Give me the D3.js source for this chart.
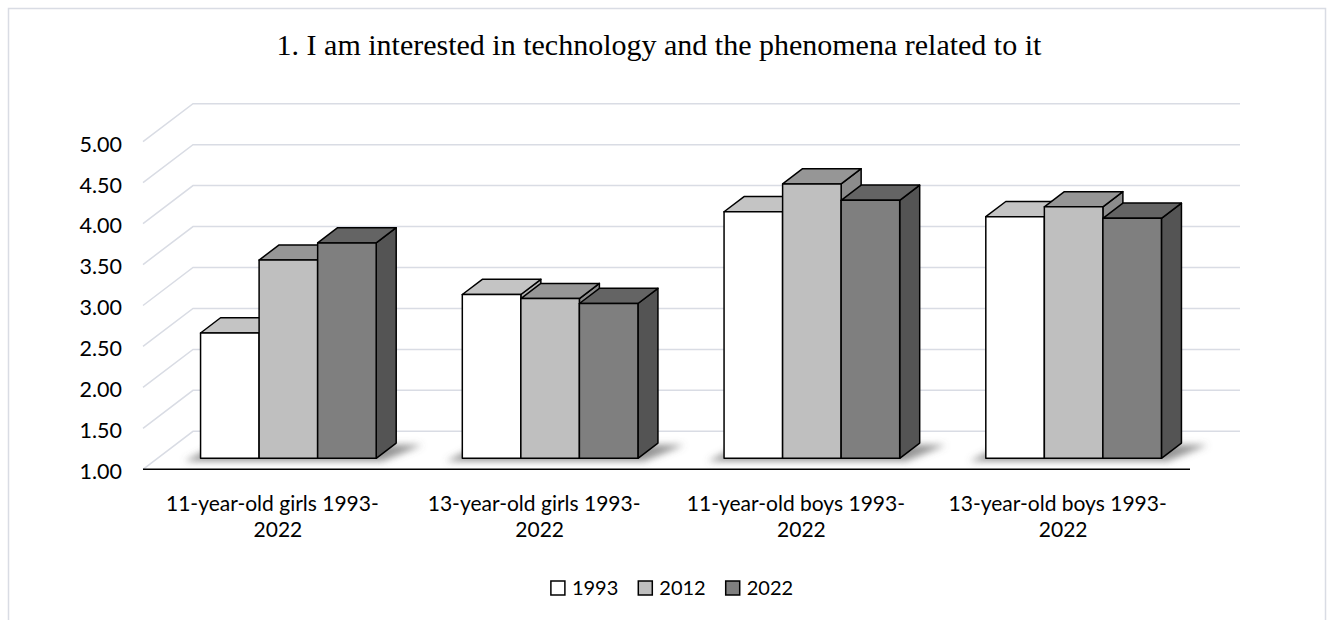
<!DOCTYPE html>
<html>
<head>
<meta charset="utf-8">
<script src="https://cdn.jsdelivr.net/npm/d3@7"></script>
<style>
  html, body { margin: 0; padding: 0; background: #ffffff; }
  svg { display: block; }
</style>
</head>
<body>
<svg id="chart" width="1329" height="620"></svg>
<script>
// ---- data ----
const chartTitle = "1. I am interested in technology and the phenomena related to it";
const categories = [
  "11-year-old girls 1993-2022",
  "13-year-old girls 1993-2022",
  "11-year-old boys 1993-2022",
  "13-year-old boys 1993-2022"
];
const years = ["1993", "2012", "2022"];
const values1993 = [2.53, 3.00, 4.01, 3.95];
const values2012 = [3.42, 2.95, 4.35, 4.07];
const values2022 = [3.63, 2.89, 4.15, 3.93];
const yTicks = [1.00, 1.50, 2.00, 2.50, 3.00, 3.50, 4.00, 4.50, 5.00];

const seriesValues = { "1993": values1993, "2012": values2012, "2022": values2022 };

// face shading per series: front, top, side
const shades = {
  "1993": { front: "#ffffff", top: "#c4c4c4", side: "#b5b5b5" },
  "2012": { front: "#bfbfbf", top: "#969696", side: "#8c8c8c" },
  "2022": { front: "#7f7f7f", top: "#646464", side: "#545454" }
};

const labelFont = "Lato, 'Noto Sans', sans-serif";

const svg = d3.select("#chart");
const W = 1329, H = 620;

// chart area border
svg.append("rect")
  .attr("x", 8.5).attr("y", 8.5)
  .attr("width", 1317).attr("height", H + 20)
  .attr("fill", "#ffffff")
  .attr("stroke", "#d9dce4").attr("stroke-width", 1.5);

// title
svg.append("text")
  .attr("x", 659).attr("y", 55)
  .attr("text-anchor", "middle")
  .attr("font-family", "'Liberation Serif', 'Times New Roman', serif")
  .attr("font-size", 30)
  .attr("fill", "#000")
  .text(chartTitle);

// ---- scales ----
const plotLeft = 143, plotRight = 1190;
const y = d3.scaleLinear().domain([1, 5]).range([469.3, 141.7]);
const x0 = d3.scaleBand().domain(categories).range([plotLeft, plotRight]);
const bw = x0.bandwidth();
const x1 = d3.scaleBand().domain(years).range([0.1645 * bw, 0.8355 * bw]);

// oblique depth of the whole wall, and the slab the columns occupy
const wallDX = 50, wallDY = -38;
const barDepth0 = 0.29, barDepth1 = 0.69;
const proj = (px, py, d) => [px + wallDX * d, py + wallDY * d];

// ---- back wall gridlines ----
const grid = svg.append("g").attr("fill", "none")
  .attr("stroke", "#d9dce4").attr("stroke-width", 1.5);
yTicks.forEach(t => {
  const f = [plotLeft, y(t)];
  const b = proj(plotLeft, y(t), 1);
  const e = proj(plotRight, y(t), 1);
  grid.append("polyline")
    .attr("points", [f, b, e].map(p => p.join(",")).join(" "));
});

// floor front edge
svg.append("line")
  .attr("x1", plotLeft).attr("x2", plotRight)
  .attr("y1", y(1)).attr("y2", y(1))
  .attr("stroke", "#000").attr("stroke-width", 1.6);

// y axis labels
const yAxis = d3.axisLeft(y).tickValues(yTicks).tickFormat(d3.format(".2f"))
  .tickSize(0).tickPadding(21);
const gy = svg.append("g").attr("transform", `translate(${plotLeft},2.5)`).call(yAxis);
gy.select(".domain").remove();
gy.selectAll("text")
  .attr("font-family", labelFont).attr("font-size", 21.5).attr("fill", "#000");

// ---- floor shadows ----
const defs = svg.append("defs");
defs.append("filter").attr("id", "soft")
  .attr("x", "-20%").attr("y", "-50%").attr("width", "140%").attr("height", "200%")
  .append("feGaussianBlur").attr("stdDeviation", 3.5);

const shadowG = svg.append("g").attr("filter", "url(#soft)");
categories.forEach(c => {
  const xl = x0(c) + x1(years[0]);
  const xr = x0(c) + x1(years[years.length - 1]) + x1.bandwidth();
  const lf = proj(xl, y(1), barDepth0);
  const rf = proj(xr, y(1), barDepth0);
  const rb = proj(xr, y(1), barDepth1);
  const lb = proj(xl, y(1), barDepth1);
  const pts = [
    [lf[0] - 16, lf[1] + 3],
    [rf[0] + 6, rf[1] + 3],
    [rb[0] + 26, rb[1] + 2],
    [lb[0], lb[1]]
  ];
  shadowG.append("polygon")
    .attr("points", pts.map(p => p.join(",")).join(" "))
    .attr("fill", "#6a6a6a").attr("opacity", 0.7);
});

// ---- 3D columns ----
const bars = svg.append("g")
  .attr("stroke", "#000").attr("stroke-width", 1.5).attr("stroke-linejoin", "round");
categories.forEach((c, ci) => {
  years.forEach(yr => {
    const v = seriesValues[yr][ci];
    const xa = x0(c) + x1(yr), xb = xa + x1.bandwidth();
    const fBL = proj(xa, y(1), barDepth0), fBR = proj(xb, y(1), barDepth0);
    const fTL = proj(xa, y(v), barDepth0), fTR = proj(xb, y(v), barDepth0);
    const bTL = proj(xa, y(v), barDepth1), bTR = proj(xb, y(v), barDepth1);
    const bBR = proj(xb, y(1), barDepth1);
    const poly = (pts, fill) => bars.append("polygon")
      .attr("points", pts.map(p => p.join(",")).join(" ")).attr("fill", fill);
    poly([fBR, fTR, bTR, bBR], shades[yr].side);
    poly([fTL, fTR, bTR, bTL], shades[yr].top);
    poly([fBL, fBR, fTR, fTL], shades[yr].front);
  });
});

// ---- category labels ----
const xAxis = d3.axisBottom(x0).tickSize(0).tickPadding(0);
const gx = svg.append("g").attr("transform", `translate(0,${y(1)})`).call(xAxis);
gx.select(".domain").remove();
gx.selectAll("text").each(function (d) {
  const parts = d.split(/(?<=\d{4}-)/);
  const t = d3.select(this).text(null)
    .attr("y", 0).attr("dy", null)
    .attr("font-family", labelFont).attr("font-size", 21).attr("fill", "#000");
  parts.forEach((p, i) => {
    t.append("tspan").attr("x", i === 0 ? -1.5 : 4).attr("y", 42 + i * 26).text(p);
  });
});

// ---- legend ----
const legend = svg.append("g").attr("font-family", labelFont).attr("font-size", 20);
const items = legend.selectAll("g").data(years).join("g");
items.append("rect")
  .attr("width", 14).attr("height", 14).attr("y", -14)
  .attr("fill", d => shades[d].front)
  .attr("stroke", "#000").attr("stroke-width", 1.5);
items.append("text").attr("x", 21).attr("y", 0).attr("fill", "#000").text(d => d);
let cursor = 0;
const offsets = [];
items.each(function () {
  offsets.push(cursor);
  cursor += this.getBBox().width + 20;
});
const total = cursor - 20;
const lx0 = 672 - total / 2;
items.attr("transform", (d, i) => `translate(${lx0 + offsets[i]},595)`);
</script>
</body>
</html>
